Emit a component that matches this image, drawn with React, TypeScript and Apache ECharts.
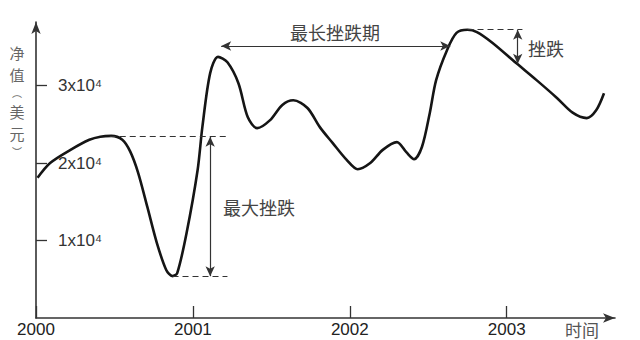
import React, { useEffect, useRef } from "react";
import * as echarts from "echarts";

// Net value curve (x in years, y in units of 10^4 USD)
const years = [
  2000.01, 2000.09, 2000.22, 2000.34, 2000.41, 2000.48, 2000.55, 2000.6, 2000.65, 2000.71, 2000.77,
  2000.83, 2000.87, 2000.9, 2000.96, 2001.03, 2001.06, 2001.11, 2001.16, 2001.22, 2001.29,
  2001.35, 2001.41, 2001.49, 2001.57, 2001.64, 2001.73, 2001.81, 2001.89, 2001.98, 2002.05,
  2002.13, 2002.21, 2002.3, 2002.36, 2002.41, 2002.46, 2002.51, 2002.55, 2002.62, 2002.68,
  2002.75, 2002.81, 2002.91, 2003.06, 2003.19, 2003.32, 2003.42, 2003.51, 2003.57, 2003.62,
];
const netValues = [
  1.81, 2.0, 2.17, 2.3, 2.34, 2.35, 2.3, 2.15, 1.88, 1.43, 0.97,
  0.62, 0.54, 0.58, 1.1, 1.91, 2.46, 3.16, 3.37, 3.3, 3.03,
  2.59, 2.45, 2.55, 2.75, 2.81, 2.71, 2.46, 2.26, 2.04, 1.92,
  2.0, 2.17, 2.27, 2.14, 2.05, 2.21, 2.65, 3.07, 3.46, 3.68,
  3.72, 3.69, 3.55, 3.29, 3.07, 2.84, 2.65, 2.58, 2.68, 2.9,
];
const xTicks = [2000, 2001, 2002, 2003];
const yTicks = [1, 2, 3];

// Annotation anchors (data coordinates)
const maxDD = { peakX: 2000.47, troughX: 2000.87, endX: 2001.22, arrowX: 2001.11, top: 2.34, bottom: 0.54 };
const longest = { fromX: 2001.18, toX: 2002.64, y: 3.51 };
const dd = { peakX: 2002.75, endX: 2003.1, arrowX: 2003.07, top: 3.72, bottom: 3.28 };

const yNameChars = ["净", "值", "︵", "美", "元", "︶"];
const yNameSizes = [15, 15, 10, 15, 15, 10];

const CJK = "'Noto Sans CJK SC', 'Noto Sans', sans-serif";
const LAT = "'Liberation Sans', Arial, sans-serif";

function yNameGraphics() {
  const out: any[] = [];
  let top = 41;
  yNameChars.forEach((ch, i) => {
    const fs = yNameSizes[i];
    const h = fs * 1.45 + 0.4;
    out.push({
      type: "text",
      x: 17,
      y: top + h / 2,
      style: {
        text: ch,
        fontSize: fs,
        fill: "#666",
        fontFamily: CJK,
        align: "center",
        verticalAlign: "middle",
      },
    });
    top += h;
  });
  return out;
}

export default function App() {
  const ref = useRef<HTMLDivElement>(null);
  useEffect(() => {
    if (!ref.current) return;
    const chart = echarts.init(ref.current, undefined, { renderer: "svg" });
    const dashed = { type: [6, 4] as any, color: "#333", width: 1.2 };
    const arrowStyle = { type: "solid" as const, color: "#333", width: 1.2 };
    chart.setOption({
      animation: false,
      backgroundColor: "#fff",
      grid: { left: 36, right: 25, top: 22, bottom: 22, containLabel: false, outerBoundsMode: "none" },
      xAxis: {
        type: "value",
        min: 2000,
        max: 2003.69,
        interval: 1,
        splitLine: { show: false },
        axisLine: {
          onZero: false,
          symbol: ["none", "arrow"],
          symbolSize: [7, 12],
          lineStyle: { color: "#333", width: 1.6 },
        },
        axisTick: { inside: true, length: 12, customValues: xTicks, lineStyle: { color: "#333", width: 1.3 } },
        axisLabel: {
          customValues: xTicks,
          formatter: (v: number) => String(v),
          margin: 3,
          fontSize: 17,
          color: "#222",
          fontFamily: LAT,
        },
      },
      yAxis: {
        type: "value",
        min: 0,
        max: 3.82,
        interval: 1,
        splitLine: { show: false },
        axisLine: {
          symbol: ["none", "arrow"],
          symbolSize: [7, 12],
          lineStyle: { color: "#333", width: 1.6 },
        },
        axisTick: { inside: true, length: 11, customValues: yTicks, lineStyle: { color: "#333", width: 1.3 } },
        axisLabel: {
          inside: true,
          customValues: yTicks,
          margin: 22,
          formatter: (v: number) => `${v}x10⁴`,
          fontSize: 17,
          color: "#333",
          fontFamily: LAT,
        },
      },
      series: [
        {
          type: "line",
          data: years.map((x, i) => [x, netValues[i]]),
          smooth: 0.3,
          showSymbol: false,
          lineStyle: { color: "#151515", width: 2.6 },
          silent: true,
          markLine: {
            silent: true,
            animation: false,
            label: { show: false },
            emphasis: { disabled: true },
            symbolSize: [7, 10],
            data: [
              [
                { coord: [maxDD.peakX, maxDD.top], symbol: "none", lineStyle: dashed },
                { coord: [maxDD.endX, maxDD.top], symbol: "none" },
              ],
              [
                { coord: [maxDD.troughX, maxDD.bottom], symbol: "none", lineStyle: dashed },
                { coord: [maxDD.endX, maxDD.bottom], symbol: "none" },
              ],
              [
                { coord: [maxDD.arrowX, maxDD.top], symbol: "arrow", lineStyle: arrowStyle },
                { coord: [maxDD.arrowX, maxDD.bottom], symbol: "arrow" },
              ],
              [
                { coord: [longest.fromX, longest.y], symbol: "arrow", lineStyle: arrowStyle },
                { coord: [longest.toX, longest.y], symbol: "arrow" },
              ],
              [
                { coord: [dd.peakX, dd.top], symbol: "none", lineStyle: dashed },
                { coord: [dd.endX, dd.top], symbol: "none" },
              ],
              [
                { coord: [dd.arrowX, dd.top], symbol: "arrow", lineStyle: arrowStyle },
                { coord: [dd.arrowX, dd.bottom], symbol: "arrow" },
              ],
            ],
          },
        },
      ],
      graphic: [
        ...yNameGraphics(),
        {
          type: "text",
          x: 335,
          y: 32,
          style: { text: "最长挫跌期", fontSize: 18, fill: "#444", fontFamily: CJK, align: "center", verticalAlign: "middle" },
        },
        {
          type: "text",
          x: 223,
          y: 207,
          style: { text: "最大挫跌", fontSize: 18, fill: "#444", fontFamily: CJK, align: "left", verticalAlign: "middle" },
        },
        {
          type: "text",
          x: 528,
          y: 48,
          style: { text: "挫跌", fontSize: 18, fill: "#444", fontFamily: CJK, align: "left", verticalAlign: "middle" },
        },
        {
          type: "text",
          x: 582,
          y: 329,
          style: { text: "时间", fontSize: 17, fill: "#555", fontFamily: CJK, align: "center", verticalAlign: "middle" },
        },
      ],
    });
    return () => chart.dispose();
  }, []);
  return (
    <div
      ref={ref}
      style={{ position: "absolute", left: 0, top: 0, width: 640, height: 340, background: "#fff" }}
    />
  );
}
